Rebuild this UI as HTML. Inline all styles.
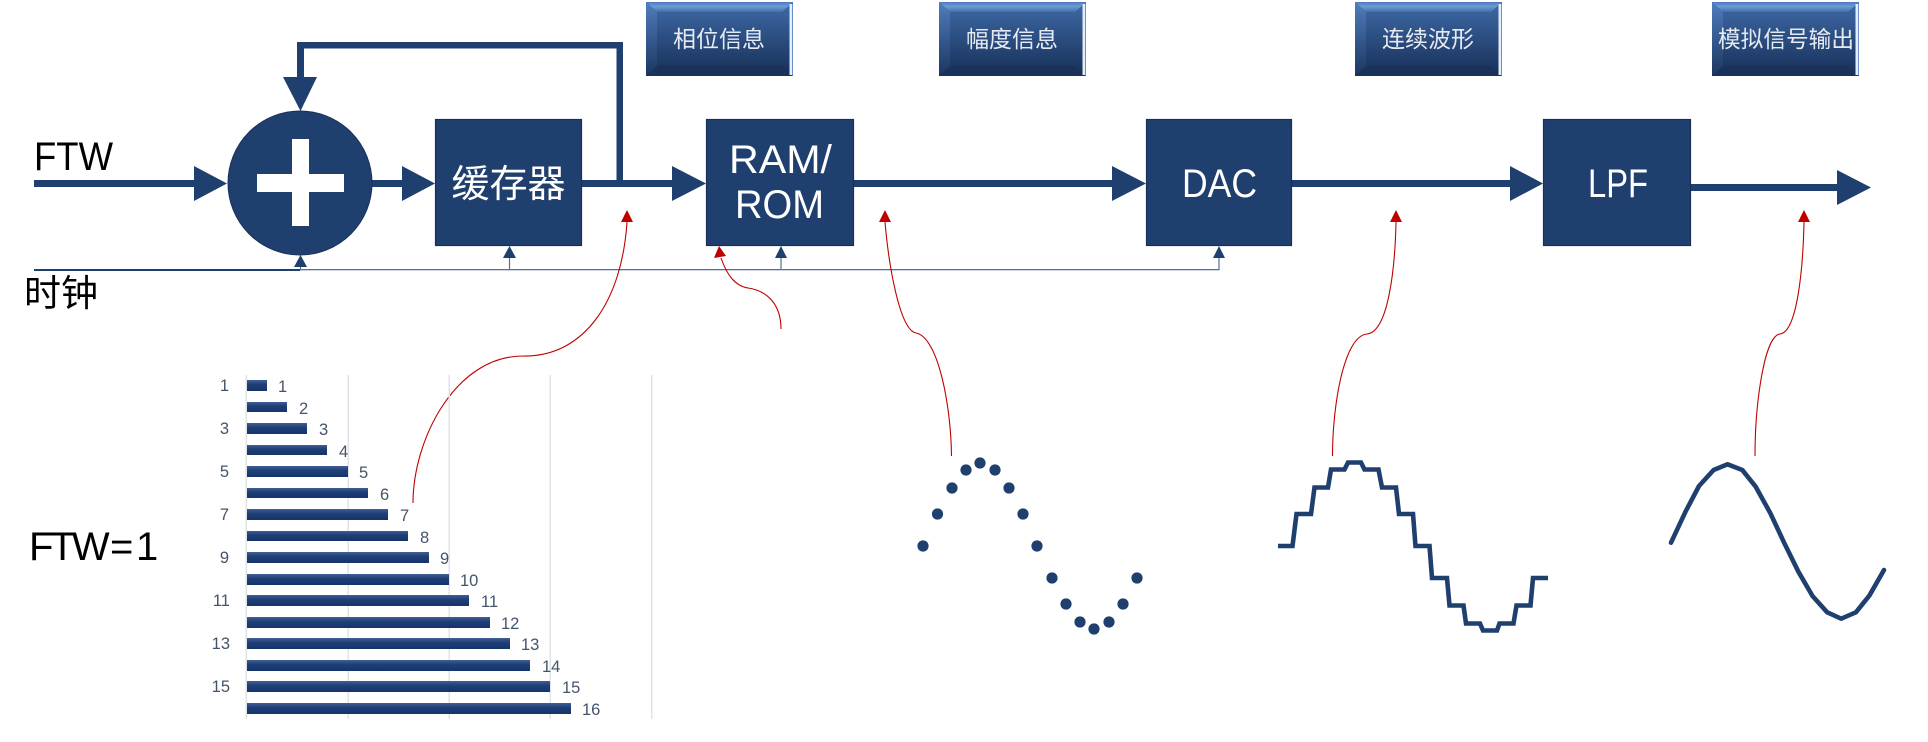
<!DOCTYPE html>
<html><head><meta charset="utf-8">
<style>
html,body{margin:0;padding:0;background:#fff;width:1928px;height:742px;overflow:hidden}
svg{display:block}
text{font-family:"Liberation Sans","Noto Sans CJK SC",sans-serif}
.cjk{font-family:"Noto Sans CJK SC","WenQuanYi Zen Hei",sans-serif}
.btn{font-size:23px;fill:#e6ebf3;text-anchor:middle}
.lbl{font-size:16.5px;fill:#44546a}
.ax{font-size:16.5px;fill:#44546a;text-anchor:end}
.w{fill:#fff}
.k{fill:#000}
</style></head><body>
<svg width="1928" height="742" viewBox="0 0 1928 742" xmlns="http://www.w3.org/2000/svg">
<defs>
<linearGradient id="g" x1="0" y1="0" x2="0" y2="1"><stop offset="0" stop-color="#3f6ba8"/><stop offset="1" stop-color="#172f57"/></linearGradient>
<linearGradient id="t" x1="0" y1="0" x2="0" y2="1"><stop offset="0" stop-color="#4c79c2"/><stop offset="0.45" stop-color="#6f9ad8"/><stop offset="1" stop-color="#43709f"/></linearGradient>
<linearGradient id="l" x1="0" y1="0" x2="0" y2="1"><stop offset="0" stop-color="#4f7dbd"/><stop offset="1" stop-color="#1c3660"/></linearGradient>
<linearGradient id="b" x1="0" y1="0" x2="0" y2="1"><stop offset="0" stop-color="#3f5f95"/><stop offset="0.4" stop-color="#1f3f77"/><stop offset="1" stop-color="#16346a"/></linearGradient>
<g id="btn">
<rect x="0" y="0" width="147" height="74" fill="url(#g)"/>
<polygon points="0,0 147,0 136,10 11,10" fill="url(#t)"/>
<polygon points="0,0 11,10 11,64 0,74" fill="url(#l)"/>
<polygon points="0,74 11,64 136,64 147,74" fill="#1a3259"/>
<rect x="143.5" y="2" width="3.5" height="71" fill="#e3eefb"/>
<rect x="146.2" y="0" width="0.8" height="74" fill="#4c79c2"/>
</g>
</defs>

<!-- buttons -->
<use href="#btn" x="646" y="2"/>
<use href="#btn" x="939" y="2"/>
<use href="#btn" x="1355" y="2"/>
<use href="#btn" x="1712" y="2"/>
<text class="cjk btn" x="719" y="47">相位信息</text>
<text class="cjk btn" x="1012" y="47">幅度信息</text>
<text class="cjk btn" x="1428" y="47">连续波形</text>
<text class="cjk btn" x="1786" y="47" textLength="136" lengthAdjust="spacingAndGlyphs">模拟信号输出</text>

<!-- main lines -->
<g fill="#1f3f6e">
<rect x="34" y="180" width="162" height="7"/>
<polygon points="194,166 227,183.5 194,201"/>
<rect x="372" y="180" width="32" height="7"/>
<polygon points="402,166 435,183.5 402,201"/>
<rect x="582" y="180" width="92" height="7"/>
<polygon points="672,166 706,183.5 672,201"/>
<rect x="854" y="180" width="260" height="7"/>
<polygon points="1112,166 1146,183.5 1112,201"/>
<rect x="1292" y="180" width="220" height="7"/>
<polygon points="1510,166 1543,183.5 1510,201"/>
<rect x="1691" y="184" width="148" height="7"/>
<polygon points="1837,170 1871,187.5 1837,205"/>
<!-- feedback -->
<rect x="616.5" y="42" width="6.5" height="140"/>
<rect x="297" y="42" width="326" height="6.5"/>
<rect x="297" y="42" width="7" height="37"/>
<polygon points="283,77 317,77 300.5,111"/>
</g>

<!-- adder -->
<circle cx="300" cy="183" r="72" fill="#1f3f6e" stroke="#17305a" stroke-width="1"/>
<rect x="257" y="174" width="87" height="18" fill="#fff"/>
<rect x="292" y="139" width="17" height="87" fill="#fff"/>

<!-- blocks -->
<g fill="#1f3f6e" stroke="#16305a" stroke-width="1.2">
<rect x="435.5" y="119.5" width="146" height="126"/>
<rect x="706.5" y="119.5" width="147" height="126"/>
<rect x="1146.5" y="119.5" width="145" height="126"/>
<rect x="1543.5" y="119.5" width="147" height="126"/>
</g>
<text class="cjk w" x="508.5" y="197" font-size="38" text-anchor="middle">缓存器</text>
<text class="w" x="729" y="173" font-size="40" textLength="103" lengthAdjust="spacingAndGlyphs">RAM/</text>
<text class="w" x="735" y="218" font-size="40" textLength="89" lengthAdjust="spacingAndGlyphs">ROM</text>
<text class="w" x="1182" y="197" font-size="40" textLength="75" lengthAdjust="spacingAndGlyphs">DAC</text>
<text class="w" x="1588" y="197" font-size="40" textLength="60" lengthAdjust="spacingAndGlyphs">LPF</text>

<!-- labels -->
<text class="k" x="34" y="170" font-size="40" textLength="79" lengthAdjust="spacingAndGlyphs">FTW</text>
<text class="cjk k" x="24" y="306" font-size="37">时钟</text>
<text class="k" y="560" font-size="40"><tspan x="29" letter-spacing="-3">FTW</tspan><tspan x="110">=</tspan><tspan x="136">1</tspan></text>

<!-- clock -->
<rect x="34" y="269" width="266" height="2" fill="#1f3f6e"/>
<rect x="300" y="269" width="919.5" height="1.3" fill="#54709a"/>
<g stroke="#54709a" stroke-width="1.2" fill="none">
<path d="M300.5 266V270M509.5 257V270M781 257V270M1219 257V270"/>
</g>
<g fill="#1f3f6e">
<polygon points="294,267 307,267 300.5,255"/>
<polygon points="503,258 516,258 509.5,246"/>
<polygon points="775,258 787,258 781,246"/>
<polygon points="1213,258 1225,258 1219,246"/>
</g>

<!-- red curves -->
<g fill="none" stroke="#c00000" stroke-width="1.1">
<path d="M627 222C622 300 585 357 523 356C455 356 413 440 413 503"/>
<path d="M721 258C727 275 735 286 748 288C768 291 781 305 781 329"/>
<path d="M885 222C889 268 900 330 916 333C938 337 951 405 951.5 456"/>
<path d="M1396 222C1395 270 1388 332 1367 334C1344 336 1332.5 405 1332.5 456"/>
<path d="M1804 222C1803 270 1797 332 1780 334C1764 336 1755 405 1755 456"/>
</g>
<g fill="#c00000">
<polygon points="627,210 621,222 633,222"/>
<polygon points="719,246 714,258 726,256"/>
<polygon points="885,210 879,222 891,222"/>
<polygon points="1396,210 1390,222 1402,222"/>
<polygon points="1804,210 1798,222 1810,222"/>
</g>

<!-- chart grid -->
<g fill="#dfe3ea">
<rect x="245.5" y="375" width="1.5" height="344"/>
<rect x="347.5" y="375" width="1.5" height="344"/>
<rect x="448.5" y="375" width="1.5" height="344"/>
<rect x="549.5" y="375" width="1.5" height="344"/>
<rect x="651" y="375" width="1.5" height="344"/>
</g>
<!-- bars -->
<g fill="url(#b)">
<rect x="247" y="380" width="20" height="11"/>
<rect x="247" y="402" width="40" height="10"/>
<rect x="247" y="423" width="60" height="11"/>
<rect x="247" y="445" width="80" height="10"/>
<rect x="247" y="466" width="101" height="11"/>
<rect x="247" y="488" width="121" height="10"/>
<rect x="247" y="509" width="141" height="11"/>
<rect x="247" y="531" width="161" height="10"/>
<rect x="247" y="552" width="182" height="11"/>
<rect x="247" y="574" width="202" height="11"/>
<rect x="247" y="595" width="222" height="11"/>
<rect x="247" y="617" width="243" height="11"/>
<rect x="247" y="638" width="263" height="11"/>
<rect x="247" y="660" width="283" height="11"/>
<rect x="247" y="681" width="303" height="11"/>
<rect x="247" y="703" width="324" height="11"/>
</g>
<!-- value labels -->
<text class="lbl" x="278" y="392">1</text>
<text class="lbl" x="299" y="414">2</text>
<text class="lbl" x="319" y="435">3</text>
<text class="lbl" x="339" y="457">4</text>
<text class="lbl" x="359" y="478">5</text>
<text class="lbl" x="380" y="500">6</text>
<text class="lbl" x="400" y="521">7</text>
<text class="lbl" x="420" y="543">8</text>
<text class="lbl" x="440" y="564">9</text>
<text class="lbl" x="460" y="586">10</text>
<text class="lbl" x="481" y="607">11</text>
<text class="lbl" x="501" y="629">12</text>
<text class="lbl" x="521" y="650">13</text>
<text class="lbl" x="542" y="672">14</text>
<text class="lbl" x="562" y="693">15</text>
<text class="lbl" x="582" y="715">16</text>
<!-- axis labels -->
<text class="ax" x="229" y="391">1</text>
<text class="ax" x="229" y="434">3</text>
<text class="ax" x="229" y="477">5</text>
<text class="ax" x="229" y="520">7</text>
<text class="ax" x="229" y="563">9</text>
<text class="ax" x="230" y="606">11</text>
<text class="ax" x="230" y="649">13</text>
<text class="ax" x="230" y="692">15</text>

<!-- dots -->
<g fill="#1f3f6e">
<circle cx="923" cy="546" r="5.6"/><circle cx="937.5" cy="514" r="5.6"/><circle cx="952" cy="488" r="5.6"/><circle cx="966" cy="470" r="5.6"/>
<circle cx="980" cy="463" r="5.6"/><circle cx="995" cy="470" r="5.6"/><circle cx="1009" cy="488" r="5.6"/><circle cx="1023" cy="514" r="5.6"/>
<circle cx="1037" cy="546" r="5.6"/><circle cx="1052" cy="578" r="5.6"/><circle cx="1066" cy="604" r="5.6"/><circle cx="1080" cy="622" r="5.6"/>
<circle cx="1094" cy="629" r="5.6"/><circle cx="1109" cy="622" r="5.6"/><circle cx="1123" cy="604" r="5.6"/><circle cx="1137" cy="578" r="5.6"/>
</g>
<!-- staircase -->
<polyline fill="none" stroke="#1f3f6e" stroke-width="4.6" points="1278,546 1292.5,546 1296.5,514 1311,514 1314.5,487.5 1328,487.5 1331,469.5 1344.5,469.5 1348,462.5 1361,462.5 1364.5,469.5 1378.5,469.5 1382,487.5 1396,487.5 1399,514 1413,514 1415.5,546 1429.5,546 1432,578 1447,578 1449.5,605.5 1463.5,605.5 1466,623.5 1480,623.5 1483,630.5 1497,630.5 1499.5,623.5 1513.5,623.5 1516.5,605.5 1530.5,605.5 1533,578 1548,578"/>
<!-- sine -->
<polyline fill="none" stroke="#1f3f6e" stroke-width="4.6" stroke-linecap="round" stroke-linejoin="round" points="1671,542.7 1685.5,511.7 1699,486 1713.6,470 1727.6,464.3 1742.3,470 1755.7,486.7 1770.4,513.3 1784.4,543.3 1798.4,571.7 1812.5,596 1827.2,612.3 1841.2,618.7 1855.9,612.3 1869.3,595.7 1884,570"/>
</svg>
</body></html>
